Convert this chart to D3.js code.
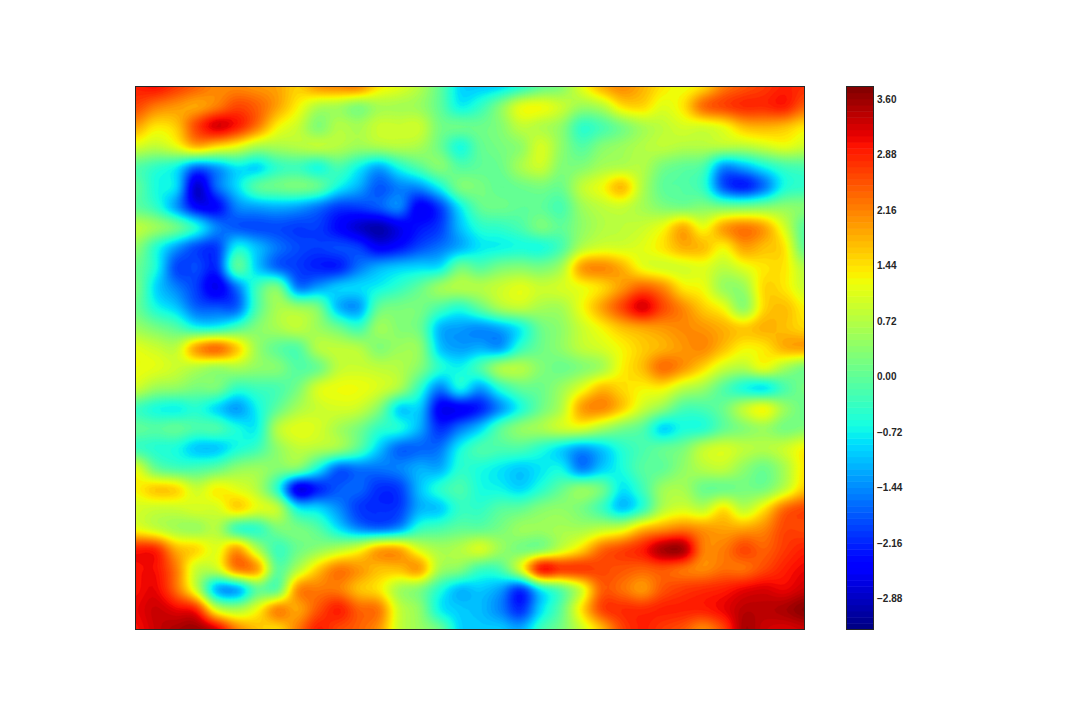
<!DOCTYPE html>
<html>
<head>
<meta charset="utf-8">
<script src="https://cdn.jsdelivr.net/npm/d3@7"></script>
<style>
html,body{margin:0;padding:0;background:#fff;}
svg{display:block;}
</style>
</head>
<body>
<svg id="chart" width="1080" height="720"></svg>
<script>
// Field values, row by row (top to bottom), 34 columns x 28 rows
const fieldRows = [
[2.9,3.0,2.7,2.4,2.1,2.1,2.0,1.9,1.6,2.0,2.1,2.1,1.4,1.1,0.7,0,-0.9,-1,-0.9,-0.5,0,0.3,1.1,1.8,2.1,1.8,1.4,1.2,1.5,2.2,2.5,2.7,2.9,2.8],
[2.6,2.2,2.0,1.9,2.2,2.6,2.4,1.9,1.3,0.7,0.6,0.3,0.6,0.6,0.5,0,-0.7,-0.4,0.3,1.1,1.2,0.9,0.5,0.7,1.4,1.5,1.1,1.4,2.3,2.6,2.8,2.8,2.9,2.4],
[1.9,1.4,1.6,2.6,3.2,2.9,2.2,1.3,0.9,0.3,0.7,0.6,0.9,0.9,0.9,0.2,0.1,0.1,0.3,0.8,0.7,0.4,-0.4,-0.2,0.2,0.6,0.8,1.0,1.0,1.2,1.7,1.8,1.7,1.4],
[1.0,0.8,1.1,1.7,1.4,1.1,0.6,0.6,0.7,0.8,0.7,0.5,0.6,0.7,0.6,0.1,-0.6,0,0.2,0.4,1.0,0.4,-0.1,0.3,0.5,0.7,0.8,0.7,0.7,0.7,0.7,0.9,1.1,0.9],
[-0.1,-0.4,-0.7,-1.6,-1.3,-0.8,-0.9,-0.4,-0.3,-0.6,-0.2,-0.7,-1.2,-0.6,-0.1,0.3,-0.1,0,0.1,0.6,0.9,0.3,0.3,0.6,0.7,0.7,0.2,0,-0.2,-1.4,-1.2,-0.7,-0.3,-0.2],
[0,-0.6,-0.9,-2.8,-1.7,-0.9,-0.1,0.1,0.2,0,-0.7,-1.2,-1.8,-1.5,-1.4,-0.7,0.2,0.2,0,0.1,0.2,0.1,0.8,1.2,1.7,0.7,0,-0.1,-0.4,-1.8,-2.2,-1.6,-0.6,-0.4],
[0,-0.4,-1.3,-2.4,-2.4,-1.5,-1.3,-1.2,-1.3,-1.6,-2.0,-2.0,-1.8,-1.5,-2.5,-2.0,-0.8,0,0.1,0,0,-0.2,0.5,0.8,0.9,0.6,0.3,0.2,0.3,0.2,0.2,0.3,0.4,0.3],
[0.8,0.5,0.1,-0.6,-1.5,-1.8,-1.9,-1.9,-2.0,-2.0,-2.4,-2.8,-3.0,-2.6,-2.3,-2,-1.1,-0.5,-0.4,-0.2,0.2,0,0.4,0.7,0.8,0.9,1.2,1.8,1.2,1.9,2.2,1.9,1.0,-0.1],
[0.4,-0.5,-1.3,-1.9,-2.0,-0.7,-1.1,-1.6,-1.9,-2.0,-1.9,-2.0,-2.5,-2.3,-1.9,-1.6,-1.2,-0.8,-0.7,-0.6,-0.6,-0.2,0.7,1.0,1.0,1.1,1.4,1.8,1.7,1.3,1.9,1.7,1.4,0],
[0.1,-0.6,-1.9,-1.9,-2.1,-0.1,-1.0,-1.7,-2.0,-2.2,-2.2,-1.6,-1.2,-1.0,-0.9,-0.8,0.1,-0.1,0.2,0.3,0.2,0.6,1.9,2.1,1.8,1.2,1.0,1.0,1.1,0.8,1.1,1.4,1.4,0.7],
[0.2,-0.9,-1.5,-2.0,-2.6,-1.6,-0.3,0.2,-1.5,-1.3,-1.0,-0.9,-0.7,-0.4,0,0.5,0.7,0.7,0.9,1.1,0.9,1.0,1.2,1.5,2.0,2.4,2.1,1.4,1.2,0.5,0.5,1.5,1.4,0.9],
[0.1,-0.6,-1.0,-1.7,-1.8,-1.7,-0.2,0.6,0.5,0.2,-1.1,-1.3,0,0.2,0.2,-0.2,-0.5,0,0.6,0.8,0.6,0.6,1.2,1.9,2.6,3.2,2.6,2.1,1.6,1.2,0.4,1.5,1.7,1.3],
[0.5,0.2,-0.1,-0.6,-0.6,-0.2,0.3,0.6,0.8,0.5,0.1,-0.3,0.5,0.3,0.1,-1.1,-1.3,-1.4,-1.2,-0.7,0.1,0.4,0.9,1.3,1.7,1.9,2.0,2.1,2.0,1.8,1.6,1.8,1.7,1.5],
[1.1,0.9,0.8,1.9,2.3,1.6,0.5,0,-0.1,0.7,0.8,0.7,0.3,0.5,0.4,-1.0,-1.3,-1.2,-1.3,-0.4,0.1,0.4,0.8,1.0,1.3,1.6,1.8,2.0,2.1,1.7,1.3,1.4,1.8,1.9],
[1.2,1.1,0.9,0.7,0.5,0.6,0.4,0.3,-0.1,0.1,0.8,0.9,0.8,0.7,0.3,-0.5,-0.7,-0.2,0.6,0.7,0.3,0.1,0.3,0.6,1.3,1.7,2.3,2.0,1.5,0.9,0.7,1.1,0.6,0.2],
[0.9,0.5,0.4,0.2,0.2,-0.4,-0.3,-0.2,0.2,1.0,1.2,1.2,1.0,0.6,-0.4,-1.5,-0.7,-1.3,-0.5,0,0.1,0.5,1.1,1.7,1.5,1.3,1.3,0.8,0.5,-0.1,-0.6,-0.8,-0.2,0.2],
[-0.3,-0.6,-0.7,-0.5,-0.9,-1.3,-0.7,0,0.6,0.9,1.0,0.9,0.3,-0.9,-1.0,-2.5,-2.5,-2.2,-1.4,-0.6,0.1,0.7,1.9,2.1,1.6,0.9,0.4,-0.2,-0.2,0.1,0.8,1.2,0.5,0.1],
[0,-0.1,0,-0.2,-0.2,-0.6,-0.7,0.7,1.1,1.0,0.6,0.2,-0.4,-0.6,-1.2,-2.1,-1.6,-1.0,-0.1,0.4,0.6,0.9,1.0,0.6,0.2,-0.1,-0.9,-0.6,-0.5,0,0.3,0.5,0.2,0.3],
[-0.3,-0.5,-0.6,-1.0,-1.0,-0.6,-0.3,0.4,0.8,0.7,0.5,-0.1,-1.0,-1.7,-1.7,-1.6,-0.7,-0.2,-0.2,-0.2,-0.5,-0.9,-1.3,-1.0,-0.5,-0.2,0,0.2,0.8,1.0,0.8,0.7,0.9,1.3],
[1.1,0.1,-0.2,-0.2,0,0.4,0.5,0.3,0.2,-0.7,-1.7,-1.6,-1.6,-1.5,-1.2,-1.2,-0.5,-0.6,-0.8,-1.0,-0.8,-0.7,-1.5,-1.0,-0.6,-0.1,0,0.4,0.7,0.8,0.4,0.1,0.6,1.4],
[1.3,1.6,1.5,0.9,1.3,1.1,0.7,-0.5,-2.6,-2.2,-1.8,-1.7,-2.1,-2.0,-1.1,-0.5,-0.2,-0.6,-0.7,-0.9,-0.5,0,0.4,0.1,-0.8,-0.3,0.5,0.6,0.1,0.1,0.2,0.2,0.8,1.6],
[1.0,0.9,0.9,1.0,1.0,1.5,1.1,0.8,-0.7,-0.9,-1.4,-2.0,-2.1,-2.0,-1.2,-1.0,-0.4,-0.4,-0.1,0,0.3,0.4,0.2,-0.3,-1.0,-0.4,0.7,1.0,0.8,1.4,0.8,1.4,2.3,2.6],
[1.2,0.9,0.6,0.5,0.7,-0.3,-0.4,0.2,0.2,-0.1,-0.8,-1.4,-1.6,-1.3,-0.4,-0.2,0,0,0.2,0.5,0.5,0.6,0.6,0.8,1.0,1.7,2.0,2.2,2.0,1.9,1.9,2.1,2.6,2.6],
[2.9,2.8,1.8,1.5,1.1,1.9,0.7,-0.3,0.1,0.4,0.7,1.1,1.8,1.8,1.0,0.6,0.7,1.0,0.5,0.2,0.3,0.9,1.5,2.3,2.6,2.9,3.5,3.5,2.2,2.2,2.6,2.4,2.7,2.9],
[3.0,3.0,2.2,0.9,0.9,2.1,1.9,0,0.7,1.6,2.2,2.0,1.7,1.7,1.9,0.6,0.3,-0.3,-0.2,1.0,2.9,2.7,2.7,2.6,2.5,2.4,2.5,2.3,2.1,2.3,2.3,2.6,2.9,3.1],
[3.0,3.1,2.3,0.9,-1.1,-1.2,0,0,2.0,2.2,2.2,1.7,1.4,0.6,0.3,-0.5,-1.1,-1,-1.3,-2.0,-0.7,0,1.0,2.4,2.3,2.0,2.5,2.7,2.8,2.9,3.1,3.2,3.1,3.3],
[3.1,3.3,3.1,2.8,1.0,0.6,1.2,2.1,1.9,2.5,2.9,2.4,2.2,0.9,0.4,-0.7,-1.0,-1.1,-1.5,-2.1,-0.9,0,1.4,2.6,2.8,2.8,2.9,2.9,2.9,3.1,3.4,3.4,3.5,3.7],
[3.0,3.3,3.5,3.6,3.2,2.2,1.7,1.5,2.2,2.9,2.6,2.4,2.0,0.9,0.5,0.1,-0.9,-1,-1,-1.2,-0.3,0.2,0.9,1.7,2.6,2.9,2.7,2.5,2.1,2.6,3.5,3.3,3.2,3.3]
];
const colorbarTicks = [3.60, 2.88, 2.16, 1.44, 0.72, 0.00, -0.72, -1.44, -2.16, -2.88];
const levelMin = -3.28, levelMax = 3.76, levelStep = 0.08;

const nCols = fieldRows[0].length, nRows = fieldRows.length;
const levels = d3.range(0, Math.round((levelMax - levelMin) / levelStep) + 1).map(i => +(levelMin + i * levelStep).toFixed(2));

// matplotlib "jet"
const jetR = d3.scaleLinear().domain([0, .35, .66, .89, 1]).range([0, 0, 1, 1, .5]).clamp(true);
const jetG = d3.scaleLinear().domain([0, .125, .375, .64, .91, 1]).range([0, 0, 1, 1, 0, 0]).clamp(true);
const jetB = d3.scaleLinear().domain([0, .11, .34, .65, 1]).range([.5, 1, 1, 0, 0]).clamp(true);
const norm = d3.scaleLinear().domain([levelMin, levelMax]).range([0, 1]);
const jet = v => {
  const t = norm(v);
  return d3.rgb(jetR(t) * 255, jetG(t) * 255, jetB(t) * 255).formatHex();
};

// Surface sampling for smooth contour outlines (rendering only)
const sub = 6;
const cr = (a, b, c, d, t) => 0.5 * (2 * b + (c - a) * t + (2 * a - 5 * b + 4 * c - d) * t * t + (3 * b - a - 3 * c + d) * t * t * t);
const at = (r, c) => fieldRows[Math.max(0, Math.min(nRows - 1, r))][Math.max(0, Math.min(nCols - 1, c))];
const fw = (nCols - 1) * sub + 1, fh = (nRows - 1) * sub + 1;
const surface = new Float64Array(fw * fh);
for (let j = 0; j < fh; j++) {
  const r = Math.min(Math.floor(j / sub), nRows - 2), tr = j / sub - r;
  for (let i = 0; i < fw; i++) {
    const c = Math.min(Math.floor(i / sub), nCols - 2), tc = i / sub - c;
    const row = k => cr(at(r + k, c - 1), at(r + k, c), at(r + k, c + 1), at(r + k, c + 2), tc);
    surface[j * fw + i] = cr(row(-1), row(0), row(1), row(2), tr);
  }
}

const svg = d3.select("#chart");
const plot = {left: 135.5, right: 804.5, top: 86.5, bottom: 629.5};
const bar = {left: 846.5, right: 873.5};

svg.append("defs").append("clipPath").attr("id", "plotClip").append("rect")
  .attr("x", plot.left).attr("y", plot.top)
  .attr("width", plot.right - plot.left).attr("height", plot.bottom - plot.top);

const xS = d3.scaleLinear().domain([0.5, fw - 0.5]).range([plot.left, plot.right]);
const yS = d3.scaleLinear().domain([0.5, fh - 0.5]).range([plot.top, plot.bottom]);
const path = d3.geoPath(d3.geoTransform({point(x, y) { this.stream.point(xS(x), yS(y)); }}));

const bands = levels.slice(0, -1).map((lo, i) => ({lo, hi: levels[i + 1], color: jet((lo + levels[i + 1]) / 2)}));
const contours = d3.contours().size([fw, fh]).smooth(true).thresholds(bands.map(b => b.lo))(surface);

const g = svg.append("g").attr("clip-path", "url(#plotClip)");
g.append("rect").attr("x", plot.left).attr("y", plot.top)
  .attr("width", plot.right - plot.left).attr("height", plot.bottom - plot.top)
  .attr("fill", bands[0].color);
g.selectAll("path").data(contours).join("path")
  .attr("d", path)
  .attr("fill", (d, i) => bands[i].color)
  .attr("stroke", (d, i) => bands[i].color)
  .attr("stroke-width", 0.4);

svg.append("rect").attr("x", plot.left).attr("y", plot.top)
  .attr("width", plot.right - plot.left).attr("height", plot.bottom - plot.top)
  .attr("fill", "none").attr("stroke", "#262626").attr("stroke-width", 1);

// Colour bar
const barY = d3.scaleLinear().domain([levelMin, levelMax]).range([plot.bottom, plot.top]);
svg.append("g").selectAll("rect").data(bands).join("rect")
  .attr("x", bar.left).attr("width", bar.right - bar.left)
  .attr("y", d => barY(d.hi)).attr("height", d => barY(d.lo) - barY(d.hi) + 0.5)
  .attr("fill", d => d.color);
svg.append("rect").attr("x", bar.left).attr("y", plot.top)
  .attr("width", bar.right - bar.left).attr("height", plot.bottom - plot.top)
  .attr("fill", "none").attr("stroke", "#262626").attr("stroke-width", 1);

const axis = d3.axisRight(barY).tickValues(colorbarTicks).tickSize(0).tickPadding(3.5)
  .tickFormat(d => d.toFixed(2).replace("-", "\u2212"));
const ag = svg.append("g").attr("transform", `translate(${bar.right},0)`).call(axis);
ag.select(".domain").remove();
ag.selectAll("text")
  .attr("font-family", "'Liberation Sans', Arial, sans-serif")
  .attr("font-size", 10)
  .attr("font-weight", 700)
  .attr("fill", "#262626");
</script>
</body>
</html>
